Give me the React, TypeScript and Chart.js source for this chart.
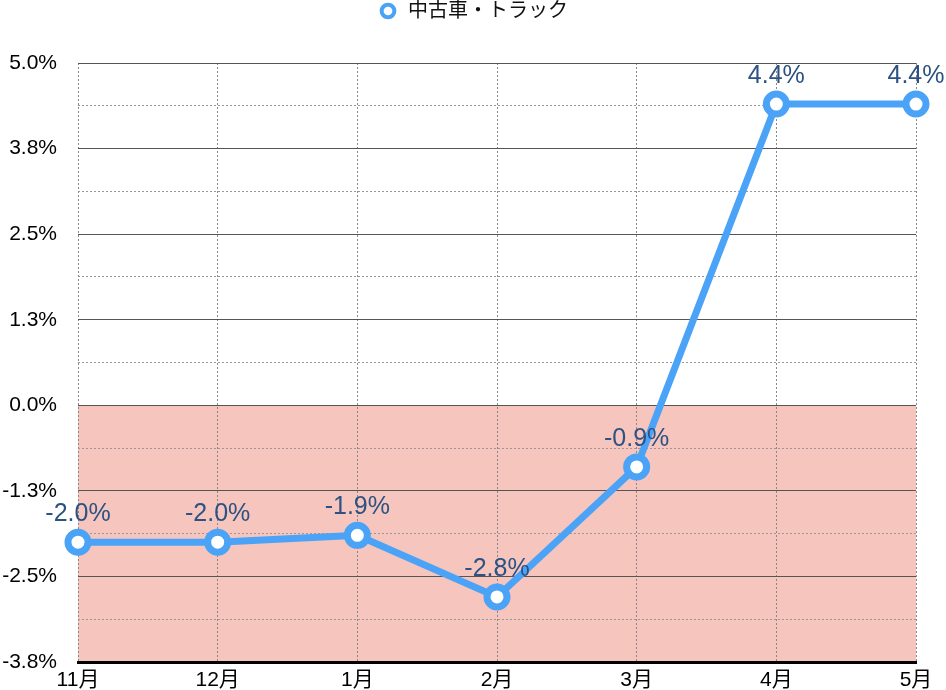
import React, { useEffect, useRef } from "react";
import { Chart, registerables } from "chart.js";

Chart.register(...registerables);

const categories = ["11月", "12月", "1月", "2月", "3月", "4月", "5月"];
const seriesName = "中古車・トラック";
const seriesValues = [-2.0, -2.0, -1.9, -2.8, -0.9, 4.4, 4.4];
const yMin = -3.75;
const yMax = 5.0;
const yMinorStep = 0.625;

const FONT = "'Liberation Sans', 'Noto Sans CJK JP', sans-serif";
const LINE_BLUE = "#4aa3f7";
const LABEL_BLUE = "#2b5283";
const NEG_FILL = "#f6c5bd";

const negativeBand = {
  id: "negativeBand",
  beforeDraw(chart: any) {
    const { ctx, chartArea, scales } = chart;
    const y = scales.y;
    const top = y.getPixelForValue(0);
    const bottom = y.getPixelForValue(yMin);
    ctx.save();
    ctx.fillStyle = NEG_FILL;
    ctx.fillRect(chartArea.left, top, chartArea.right - chartArea.left, bottom - top);
    ctx.restore();
  },
};

const valueLabels = {
  id: "valueLabels",
  afterDatasetsDraw(chart: any) {
    const { ctx } = chart;
    const meta = chart.getDatasetMeta(0);
    const data = chart.data.datasets[0].data as number[];
    ctx.save();
    ctx.font = `25px ${FONT}`;
    ctx.fillStyle = LABEL_BLUE;
    ctx.textAlign = "center";
    ctx.textBaseline = "middle";
    meta.data.forEach((pt: any, i: number) => {
      ctx.fillText(data[i].toFixed(1) + "%", pt.x, pt.y - 28);
    });
    ctx.restore();
  },
};

const legendSpacing = {
  id: "legendSpacing",
  beforeInit(chart: any) {
    const legend = chart.legend;
    if (!legend) return;
    const origFit = legend.fit;
    legend.fit = function () {
      origFit.bind(legend)();
      this.height = 63;
    };
  },
};

export default function App() {
  const ref = useRef<HTMLCanvasElement | null>(null);
  useEffect(() => {
    if (!ref.current) return;
    const defaultGen = (Chart.defaults.plugins.legend.labels as any).generateLabels;
    const chart = new Chart(ref.current, {
      type: "line",
      data: {
        labels: categories,
        datasets: [
          {
            label: seriesName,
            data: seriesValues,
            borderColor: LINE_BLUE,
            backgroundColor: LINE_BLUE,
            borderWidth: 7,
            pointRadius: 10,
            pointHoverRadius: 10,
            pointBorderWidth: 7,
            pointBackgroundColor: "#ffffff",
            pointBorderColor: LINE_BLUE,
            tension: 0,
            fill: false,
          },
        ],
      },
      options: {
        animation: false,
        responsive: false,
        devicePixelRatio: 1,
        layout: { padding: 0 },
        plugins: {
          tooltip: { enabled: false },
          legend: {
            display: true,
            position: "top",
            labels: {
              usePointStyle: true,
              pointStyle: "circle",
              boxHeight: 9,
              boxWidth: 20,
              padding: 1,
              color: "#111",
              font: { family: FONT, size: 20 },
              generateLabels(c: any) {
                const items = defaultGen(c);
                items.forEach((it: any) => {
                  it.lineWidth = 4;
                  it.fillStyle = "#ffffff";
                  it.strokeStyle = LINE_BLUE;
                });
                return items;
              },
            },
          },
        },
        scales: {
          x: {
            offset: false,
            grid: {
              display: true,
              drawTicks: false,
              color: "#888",
              lineWidth: 1,
            },
            border: { display: true, color: "#000", width: 3, dash: [2, 2] },
            ticks: {
              color: "#000",
              padding: 6,
              font: { family: FONT, size: 21 },
              maxRotation: 0,
              autoSkip: false,
            },
            afterFit(s: any) {
              s.height = 28;
            },
          },
          y: {
            min: yMin,
            max: yMax,
            grid: {
              drawTicks: false,
              color: (ctx: any) => (ctx.index % 2 === 0 ? "#555" : "#999"),
              lineWidth: 1,
            },
            border: {
              display: false,
              dash: (ctx: any) => (ctx.index % 2 === 0 ? [] : [2, 2]),
            } as any,
            ticks: {
              stepSize: yMinorStep,
              maxTicksLimit: 30,
              autoSkip: false,
              padding: 21,
              color: "#000",
              font: { family: FONT, size: 21 },
              callback: (v: any, i: number) => (i % 2 === 0 ? Number(v).toFixed(1) + "%" : ""),
            },
            afterFit(s: any) {
              s.width = 78;
              s.paddingTop = 12;
              s.paddingBottom = 12;
            },
          },
          yRightSpace: {
            type: "linear",
            position: "right",
            display: true,
            grid: { display: false, drawOnChartArea: false, drawTicks: false },
            border: { display: false },
            ticks: { display: false },
            afterFit(s: any) {
              s.width = 30;
              s.paddingTop = 0;
              s.paddingBottom = 0;
            },
          },
        },
      },
      plugins: [negativeBand, valueLabels, legendSpacing],
    });
    return () => chart.destroy();
  }, []);
  return (
    <div style={{ position: "fixed", left: 0, top: 0, width: 946, height: 690, background: "#fff" }}>
      <canvas ref={ref} width={946} height={690} style={{ display: "block", width: 946, height: 690 }} />
    </div>
  );
}
